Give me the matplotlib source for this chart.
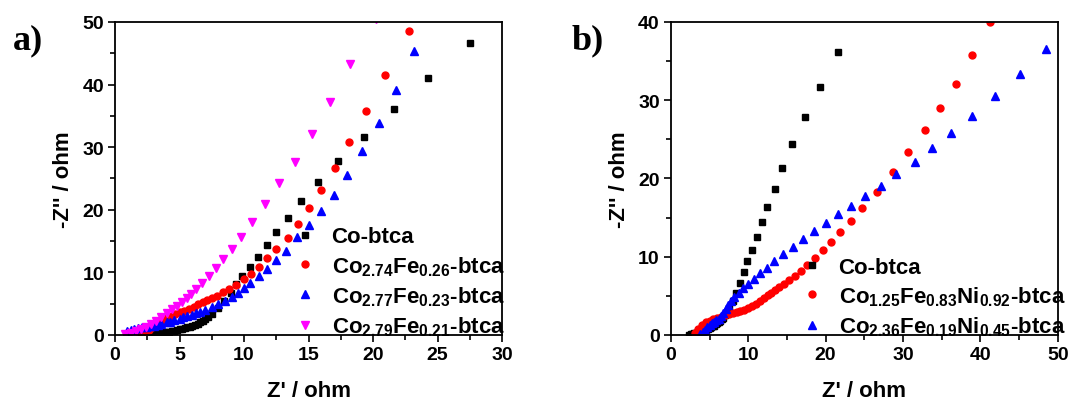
import matplotlib
matplotlib.use("Agg")
import matplotlib.pyplot as plt
from matplotlib.ticker import MultipleLocator

plt.rcParams['font.family'] = ['Liberation Sans', 'DejaVu Sans']
plt.rcParams['font.weight'] = 'bold'
plt.rcParams['mathtext.fontset'] = 'custom'
plt.rcParams['mathtext.rm'] = 'Liberation Sans:bold'
plt.rcParams['mathtext.it'] = 'Liberation Sans:bold'
plt.rcParams['mathtext.bf'] = 'Liberation Sans:bold'

# Co-btca (used in both panels)
co_x = [2.4, 2.6, 2.8, 3.0, 3.2, 3.4, 3.6, 3.8, 4.0, 4.2, 4.4, 4.6, 4.8, 5.0,
        5.2, 5.4, 5.6, 5.8, 6.0, 6.2, 6.4, 6.6, 6.8, 7.0, 7.2, 7.55, 8.0, 8.45,
        9.0, 9.4, 9.86, 10.43, 11.08, 11.75, 12.45, 13.4, 14.4, 15.7, 17.3,
        19.3, 21.6, 24.3, 27.55]
co_y = [0.05, 0.1, 0.15, 0.2, 0.25, 0.3, 0.35, 0.4, 0.5, 0.55, 0.6, 0.7, 0.8,
        0.9, 1.0, 1.1, 1.2, 1.35, 1.5, 1.65, 1.8, 2.0, 2.2, 2.5, 2.8, 3.4, 4.3,
        5.4, 6.7, 8.1, 9.4, 10.8, 12.5, 14.4, 16.4, 18.7, 21.35, 24.4, 27.8,
        31.7, 36.1, 41.05, 46.7]

# panel a
fe26_x = [2.0, 2.3, 2.6, 2.9, 3.2, 3.5, 3.8, 4.1, 4.4, 4.65, 5.0, 5.35, 5.7,
          6.1, 6.45, 6.8, 7.1, 7.5, 7.9, 8.34, 8.83, 9.37, 9.97, 10.55, 11.15,
          11.8, 12.45, 13.4, 14.2, 15.05, 16.0, 17.05, 18.15, 19.45, 20.9, 22.75]
fe26_y = [0.1, 0.4, 0.8, 1.2, 1.6, 2.0, 2.4, 2.8, 3.1, 3.35, 3.6, 3.9, 4.15,
          4.55, 4.95, 5.3, 5.6, 5.95, 6.3, 6.8, 7.4, 8.0, 8.9, 9.8, 10.9, 12.25,
          13.75, 15.55, 17.8, 20.3, 23.2, 26.7, 30.9, 35.7, 41.6, 48.6]

fe23_x = [0.9, 1.2, 1.5, 1.8, 2.1, 2.4, 2.7, 3.0, 3.3, 3.6, 4.0, 4.3, 4.6, 5.0,
          5.3, 5.6, 6.0, 6.3, 6.6, 7.0, 7.5, 8.0, 8.5, 9.04, 9.5, 9.97, 10.5,
          11.15, 11.8, 12.45, 13.25, 14.1, 15.05, 16.0, 16.95, 17.95, 19.15,
          20.5, 21.8, 23.2]
fe23_y = [0.7, 0.85, 1.0, 1.1, 1.2, 1.3, 1.4, 1.5, 1.65, 1.8, 2.0, 2.15, 2.35,
          2.6, 2.8, 3.0, 3.2, 3.45, 3.7, 4.0, 4.4, 5.0, 5.5, 6.1, 6.75, 7.55,
          8.35, 9.4, 10.5, 11.9, 13.4, 15.6, 17.5, 19.75, 22.4, 25.6, 29.4,
          33.8, 39.1, 45.4]

fe21_x = [0.8, 1.2, 1.6, 2.0, 2.4, 2.8, 3.2, 3.6, 4.0, 4.4, 4.8, 5.2, 5.55,
          5.9, 6.3, 6.75, 7.25, 7.8, 8.4, 9.1, 9.8, 10.65, 11.65, 12.7, 13.95,
          15.3, 16.65, 18.25, 20.2]
fe21_y = [0.2, 0.35, 0.6, 0.9, 1.3, 1.8, 2.3, 2.9, 3.5, 4.1, 4.7, 5.3, 5.9,
          6.6, 7.4, 8.35, 9.4, 10.7, 12.1, 13.8, 15.65, 18.05, 20.9, 24.2,
          27.7, 32.1, 37.2, 43.3, 50.5]

# panel b
ni92_x = [3.1, 3.5, 4.0, 4.5, 5.0, 5.5, 6.0, 6.5, 7.0, 7.5, 8.0, 8.5, 9.0,
          9.5, 10.0, 10.5, 11.0, 11.5, 12.0, 12.5, 13.0, 13.5, 14.0, 14.6,
          15.3, 16.0, 16.85, 17.65, 18.65, 19.7, 20.7, 21.9, 23.3, 24.7, 26.6,
          28.7, 30.7, 32.8, 34.8, 36.8, 38.95, 41.3]
ni92_y = [0.3, 0.8, 1.3, 1.6, 1.85, 2.05, 2.2, 2.35, 2.5, 2.65, 2.8, 2.95, 3.1,
          3.25, 3.45, 3.7, 4.0, 4.35, 4.7, 5.05, 5.4, 5.8, 6.1, 6.5, 7.05, 7.6,
          8.2, 8.95, 9.85, 10.8, 11.9, 13.2, 14.6, 16.2, 18.3, 20.8, 23.4,
          26.2, 29.0, 32.1, 35.8, 40.0]

ni45_x = [3.8, 4.1, 4.4, 4.7, 5.0, 5.3, 5.6, 5.9, 6.2, 6.5, 6.8, 7.1, 7.4,
          7.8, 8.2, 8.75, 9.3, 9.95, 10.7, 11.5, 12.4, 13.35, 14.5, 15.8, 17.1,
          18.5, 20.0, 21.6, 23.3, 25.15, 27.1, 29.15, 31.5, 33.7, 36.25, 38.95,
          41.9, 45.1, 48.5]
ni45_y = [0.1, 0.4, 0.7, 1.0, 1.25, 1.5, 1.7, 1.9, 2.1, 2.4, 2.8, 3.3, 3.8,
          4.35, 4.85, 5.4, 6.0, 6.55, 7.2, 7.9, 8.6, 9.5, 10.3, 11.25, 12.25,
          13.35, 14.35, 15.4, 16.5, 17.75, 19.0, 20.6, 22.15, 23.85, 25.85,
          28.0, 30.5, 33.35, 36.5]

labels_a = ['Co-btca', r'Co$_{2.74}$Fe$_{0.26}$-btca',
            r'Co$_{2.77}$Fe$_{0.23}$-btca', r'Co$_{2.79}$Fe$_{0.21}$-btca']
labels_b = ['Co-btca', r'Co$_{1.25}$Fe$_{0.83}$Ni$_{0.92}$-btca',
            r'Co$_{2.36}$Fe$_{0.19}$Ni$_{0.45}$-btca']

fig = plt.figure(figsize=(10.75, 4.1), dpi=100)
ax1 = fig.add_axes([0.107, 0.1805, 0.36, 0.7635])
ax2 = fig.add_axes([0.624, 0.1805, 0.36, 0.7635])

ms = 5
ax1.plot(co_x, co_y, 's', color='black', ms=ms, label=labels_a[0])
ax1.plot(fe26_x, fe26_y, 'o', color='red', ms=ms, label=labels_a[1])
ax1.plot(fe23_x, fe23_y, '^', color='blue', ms=ms + 1, label=labels_a[2])
ax1.plot(fe21_x, fe21_y, 'v', color='magenta', ms=ms + 1, label=labels_a[3])

ax2.plot(co_x, co_y, 's', color='black', ms=ms, label=labels_b[0])
ax2.plot(ni92_x, ni92_y, 'o', color='red', ms=ms, label=labels_b[1])
ax2.plot(ni45_x, ni45_y, '^', color='blue', ms=ms + 1, label=labels_b[2])

ax1.set_xlim(0, 30)
ax1.set_ylim(0, 50)
ax1.xaxis.set_major_locator(MultipleLocator(5))
ax1.xaxis.set_minor_locator(MultipleLocator(2.5))
ax2.set_xlim(0, 50)
ax2.set_ylim(0, 40)
ax2.xaxis.set_major_locator(MultipleLocator(10))
ax2.xaxis.set_minor_locator(MultipleLocator(5))

for ax in (ax1, ax2):
    ax.yaxis.set_major_locator(MultipleLocator(10))
    ax.yaxis.set_minor_locator(MultipleLocator(5))
    ax.tick_params(which='major', direction='out', length=5, width=1.2,
                   labelsize=14, pad=3)
    ax.tick_params(which='minor', direction='out', length=3.5, width=1.2)
    ax.tick_params(top=False, right=False, which='both')
    for s in ax.spines.values():
        s.set_linewidth(1.3)
    ax.set_xlabel("Z' / ohm", fontsize=16, fontweight='bold', labelpad=12)
    ax.set_ylabel("-Z'' / ohm", fontsize=16, fontweight='bold', labelpad=6)

ax1.legend(loc='lower left', bbox_to_anchor=(0.462, -0.01), frameon=False,
           fontsize=16, handlelength=1.0, handletextpad=0.7,
           labelspacing=0.3, borderpad=0, borderaxespad=0, numpoints=1)
ax2.legend(loc='lower left', bbox_to_anchor=(0.336, -0.01), frameon=False,
           fontsize=16, handlelength=1.0, handletextpad=0.7,
           labelspacing=0.3, borderpad=0, borderaxespad=0, numpoints=1)

fig.text(0.026, 0.9, 'a)', fontsize=26, fontweight='bold',
         family='Liberation Serif', va='center', ha='center')
fig.text(0.547, 0.9, 'b)', fontsize=26, fontweight='bold',
         family='Liberation Serif', va='center', ha='center')

fig.savefig('out.png', dpi=100)
